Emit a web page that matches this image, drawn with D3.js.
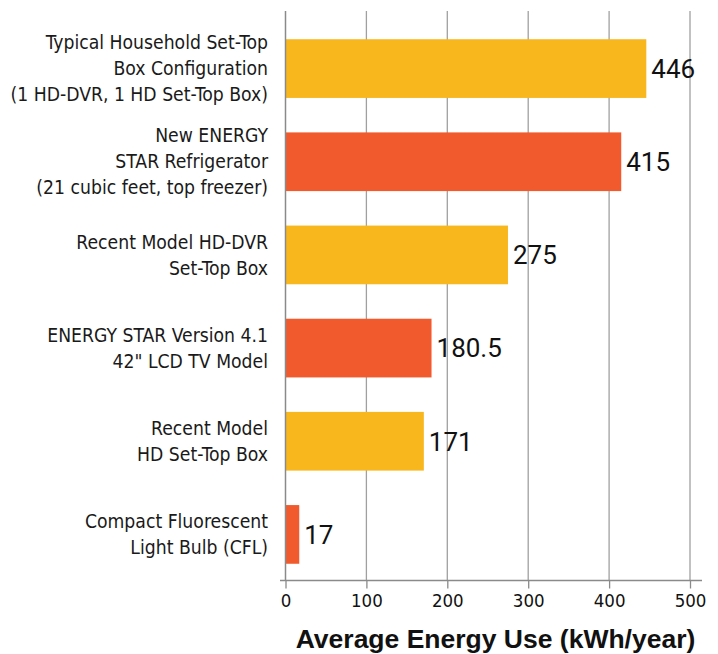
<html lang="en">
<head>
    <title>Average Energy Use</title>
    <style>
        body {
            margin: 0;
            background-color: white;
        }
        .label {
            font-family: "DejaVu Sans Condensed", sans-serif;
            font-size: 19.2px;
            fill: #1a1a1a;
        }
        .tick text {
            font-family: "DejaVu Sans Condensed", sans-serif;
            font-size: 18.5px;
            fill: #111;
        }
        .value {
            font-family: Roboto, "Liberation Sans", sans-serif;
            font-size: 26px;
            fill: #111;
        }
        .title {
            font-family: "Liberation Sans", Arial, sans-serif;
            font-weight: bold;
            font-size: 26.5px;
            fill: #111;
        }
    </style>
</head>
<body>
<svg id="chart"></svg>
<script src="https://cdnjs.cloudflare.com/ajax/libs/d3/7.8.5/d3.min.js"></script>
<script>
    // chart data
    var categories = [
        ["Typical Household Set-Top", "Box Configuration", "(1 HD-DVR, 1 HD Set-Top Box)"],
        ["New ENERGY", "STAR Refrigerator", "(21 cubic feet, top freezer)"],
        ["Recent Model HD-DVR", "Set-Top Box"],
        ["ENERGY STAR Version 4.1", "42\" LCD TV Model"],
        ["Recent Model", "HD Set-Top Box"],
        ["Compact Fluorescent", "Light Bulb (CFL)"]
    ];
    var values = [446, 415, 275, 180.5, 171, 17];
    var valueLabels = ["446", "415", "275", "180.5", "171", "17"];
    var xTicks = [0, 100, 200, 300, 400, 500];
    var axisTitle = "Average Energy Use (kWh/year)";

    var width = 718;
    var height = 654;
    var colors = ["#f9b71e", "#f15a2c"];

    var svg = d3.select("#chart")
        .attr("width", width)
        .attr("height", height);

    var x = d3.scaleLinear()
        .domain([0, 500])
        .range([285.5, 690]);

    var y = d3.scaleBand()
        .domain(d3.range(categories.length))
        .range([22, 581])
        .paddingInner(0.37)
        .paddingOuter(0.185);

    var axisY = 580.5;

    // gridlines
    svg.append("g")
        .selectAll("line")
        .data(xTicks.slice(1))
        .enter()
        .append("line")
        .attr("x1", d => x(d))
        .attr("x2", d => x(d))
        .attr("y1", 11)
        .attr("y2", axisY)
        .attr("stroke", "#a0a0a0")
        .attr("stroke-width", 1.3);

    // bars
    svg.append("g")
        .selectAll("rect")
        .data(values)
        .enter()
        .append("rect")
        .attr("x", x(0))
        .attr("y", (d, i) => y(i))
        .attr("width", d => x(d) - x(0))
        .attr("height", y.bandwidth())
        .attr("fill", (d, i) => colors[i % 2]);

    // zero line
    svg.append("line")
        .attr("x1", x(0))
        .attr("x2", x(0))
        .attr("y1", 11)
        .attr("y2", axisY)
        .attr("stroke", "#8a8a8a")
        .attr("stroke-width", 1.5);

    // x axis
    var xAxis = d3.axisBottom(x)
        .tickValues(xTicks)
        .tickSize(8)
        .tickPadding(5)
        .tickFormat(d3.format("d"));

    var gx = svg.append("g")
        .attr("transform", "translate(0," + axisY + ")")
        .call(xAxis);
    gx.select(".domain").remove();
    gx.selectAll(".tick line").attr("stroke", "#8a8a8a").attr("stroke-width", 1.3);
    gx.append("line")
        .attr("x1", 280)
        .attr("x2", 702)
        .attr("stroke", "#8a8a8a")
        .attr("stroke-width", 1.3);
    gx.selectAll(".tick text").attr("font-family", null).attr("font-size", null);

    // category labels
    var lineH = 26;
    svg.append("g")
        .selectAll("text")
        .data(categories)
        .enter()
        .append("text")
        .attr("class", "label")
        .attr("text-anchor", "end")
        .attr("x", 268)
        .attr("y", (d, i) => y(i) + y.bandwidth() / 2 - (d.length - 1) * lineH / 2)
        .each(function(d) {
            var t = d3.select(this);
            d.forEach((line, j) => {
                t.append("tspan")
                    .attr("x", 268)
                    .attr("dy", j === 0 ? "0.35em" : lineH)
                    .text(line);
            });
        });

    // value labels
    svg.append("g")
        .selectAll("text")
        .data(values)
        .enter()
        .append("text")
        .attr("class", "value")
        .attr("x", d => x(d) + 5)
        .attr("y", (d, i) => y(i) + y.bandwidth() / 2)
        .attr("dy", "0.36em")
        .text((d, i) => valueLabels[i]);

    // axis title
    svg.append("text")
        .attr("class", "title")
        .attr("text-anchor", "middle")
        .attr("x", 495.5)
        .attr("y", 648)
        .text(axisTitle);
</script>
</body>
</html>
